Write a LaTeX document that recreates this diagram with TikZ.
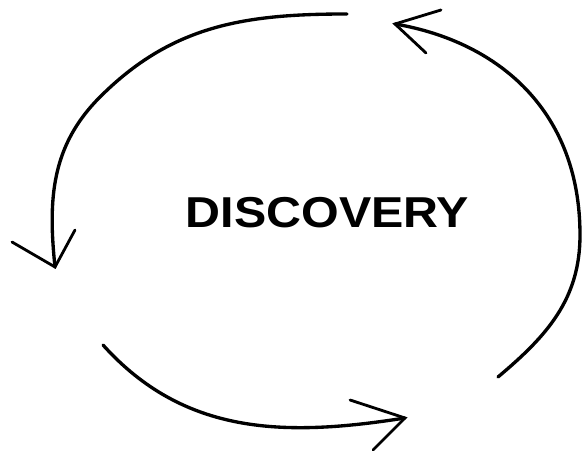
\documentclass[tikz,border=0pt]{standalone}
\usepackage{fontspec}
\setmainfont{Liberation Sans}
\begin{document}
\begin{tikzpicture}[
      x=0.02cm, y=0.02cm,
      stroke/.style={draw, line width=1.9pt, line cap=round, line join=round},
      barb/.style={draw, line width=1.6pt, line cap=round, line join=miter},
      title/.style={font=\fontsize{24.6pt}{28pt}\selectfont\bfseries, xscale=1.12, anchor=base, inner sep=0pt}
    ]
      \useasboundingbox (0,0) rectangle (582,452);
      % end points of the three arcs
      \coordinate (topS) at (347,438);
      \coordinate (topM) at (100,355);
      \coordinate (leftT) at (55,185);
      \coordinate (botS) at (103,107);
      \coordinate (botT) at (405,34);
      \coordinate (rgtS) at (498,75);
      \coordinate (rgtM) at (580,217);
      \coordinate (rgtT) at (395,428);
      % barb ends
      \coordinate (leftA) at (12,210);
      \coordinate (leftB) at (75,222);
      \coordinate (botA) at (350,52);
      \coordinate (botB) at (373,2);
      \coordinate (rgtA) at (441,442);
      \coordinate (rgtB) at (426,399);

      \node[title] (disc) at (327.5,224) {DISCOVERY};

      \path[stroke] (topS) to[out=180, in=45] (topM) to[out=225, in=96] (leftT);
      \path[barb] (leftA) -- (leftT) -- (leftB);

      \path[stroke] (botS) to[out=-48, in=189] (botT);
      \path[barb] (botA) -- (botT) -- (botB);

      \path[stroke] (rgtS) to[out=40, in=270] (rgtM)
        .. controls (580,340) and (500,410) .. (rgtT);
      \path[barb] (rgtA) -- (rgtT) -- (rgtB);
    \end{tikzpicture}
\end{document}
